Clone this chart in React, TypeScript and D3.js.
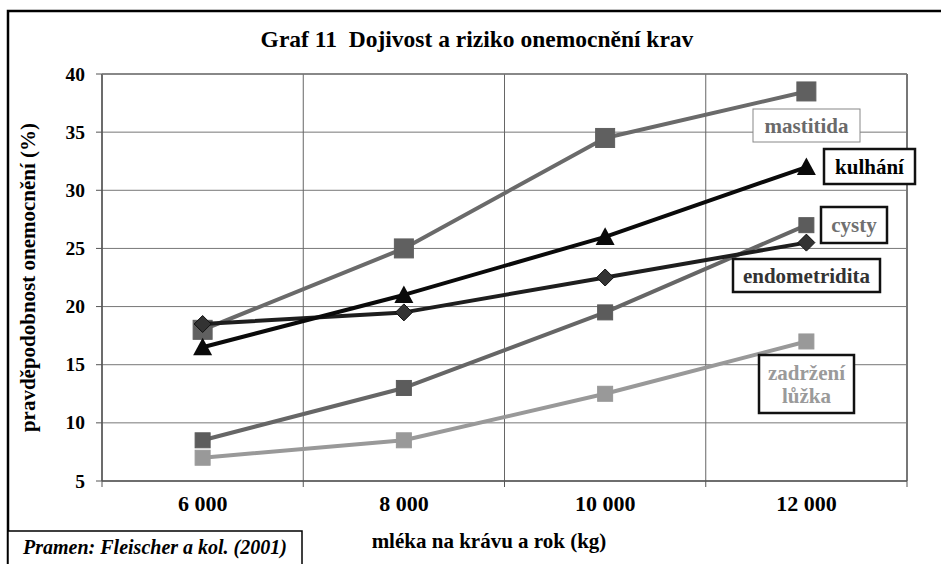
import React from "react";
import * as d3 from "d3";

const categories = ["6 000", "8 000", "10 000", "12 000"];
const yTicks = [5, 10, 15, 20, 25, 30, 35, 40];
const mastitida = [18, 25, 34.5, 38.5];
const kulhani = [16.5, 21, 26, 32];
const cysty = [8.5, 13, 19.5, 27];
const endometridita = [18.5, 19.5, 22.5, 25.5];
const zadrzeni = [7, 8.5, 12.5, 17];

const W = 941, H = 564;
const L = 102, R = 907, T = 74, B = 481;
const FONT = "'Liberation Serif', 'Times New Roman', 'DejaVu Serif', serif";

type S = { name: string[]; values: number[]; color: string; marker: string; mcolor: string; msize: number; width: number;
  box: [number, number, number, number]; textColor: string; boxStroke: string; boxW: number };

const series: S[] = [
  { name: ["zadržení", "lůžka"], values: zadrzeni, color: "#999", marker: "square", mcolor: "#999", msize: 15, width: 4,
    box: [759, 355, 854, 413], textColor: "#9a9a9a", boxStroke: "#111", boxW: 2.5 },
  { name: ["cysty"], values: cysty, color: "#666", marker: "square", mcolor: "#5c5c5c", msize: 15, width: 4,
    box: [821, 207, 887, 243], textColor: "#707070", boxStroke: "#111", boxW: 2.5 },
  { name: ["mastitida"], values: mastitida, color: "#6a6a6a", marker: "square", mcolor: "#606060", msize: 19, width: 4,
    box: [753, 109, 860, 142], textColor: "#6a6a6a", boxStroke: "#888", boxW: 1 },
  { name: ["endometridita"], values: endometridita, color: "#1e1e1e", marker: "diamond", mcolor: "#333", msize: 15, width: 4,
    box: [733, 259, 880, 292], textColor: "#333", boxStroke: "#111", boxW: 2.5 },
  { name: ["kulhání"], values: kulhani, color: "#0a0a0a", marker: "triangle", mcolor: "#0a0a0a", msize: 19, width: 4,
    box: [824, 149, 915, 184], textColor: "#000", boxStroke: "#111", boxW: 2.5 },
];

export default function App() {
  const x = d3.scaleBand<string>().domain(categories).range([L, R]);
  const y = d3.scaleLinear().domain([5, 40]).range([B, T]);
  const cx = (i: number) => (x(categories[i]) as number) + x.bandwidth() / 2;
  const line = d3.line<number>().x((_, i) => cx(i)).y((v) => y(v));
  const bounds = categories.map((c) => x(c) as number).concat([R]);

  const marker = (s: S, v: number, i: number) => {
    const px = cx(i), py = y(v), r = s.msize / 2;
    if (s.marker === "square")
      return <rect key={i} x={px - r} y={py - r} width={s.msize} height={s.msize} fill={s.mcolor} stroke={s.mcolor} strokeWidth={1} />;
    if (s.marker === "diamond")
      return <path key={i} d={`M${px},${py - r - 1}L${px + r + 1},${py}L${px},${py + r + 1}L${px - r - 1},${py}Z`} fill={s.mcolor} stroke="#111" strokeWidth={1} />;
    return <path key={i} d={`M${px},${py - r}L${px + r},${py + r * 0.85}L${px - r},${py + r * 0.85}Z`} fill={s.mcolor} />;
  };

  const tstyle: React.CSSProperties = { fontFamily: FONT, whiteSpace: "pre" };

  return (
    <svg width={W} height={H} style={{ position: "absolute", left: 0, top: 0, background: "#fff", fontFamily: FONT }}>
      <rect x={0} y={0} width={W} height={H} fill="#fff" />
      <rect x={8} y={11} width={W + 20} height={H + 20} fill="none" stroke="#000" strokeWidth={2.5} />
      <text x={477} y={47} textAnchor="middle" fontSize={23.5} fontWeight="bold" style={tstyle}>{"Graf 11  Dojivost a riziko onemocnění krav"}</text>

      {yTicks.map((t) => (
        <g key={t}>
          <line x1={L} x2={R} y1={y(t)} y2={y(t)} stroke="#777" strokeWidth={1} />
          <line x1={L - 6} x2={L} y1={y(t)} y2={y(t)} stroke="#555" strokeWidth={1} />
          <text x={85} y={y(t) + 6.5} textAnchor="end" fontSize={19.5} fontWeight="bold" style={tstyle}>{t}</text>
        </g>
      ))}
      {bounds.map((b, i) => (
        <g key={i}>
          <line x1={b} x2={b} y1={T} y2={B} stroke="#666" strokeWidth={1} />
          <line x1={b} x2={b} y1={B} y2={B + 6} stroke="#555" strokeWidth={1} />
        </g>
      ))}
      <line x1={L} x2={L} y1={T} y2={B} stroke="#555" strokeWidth={1.5} />
      <line x1={R} x2={R} y1={T} y2={B} stroke="#777" strokeWidth={2} />
      <line x1={L} x2={R} y1={B} y2={B} stroke="#555" strokeWidth={1.5} />
      <line x1={L} x2={R} y1={T} y2={T} stroke="#777" strokeWidth={1.5} />

      {categories.map((c, i) => (
        <text key={c} x={cx(i)} y={511} textAnchor="middle" fontSize={22} fontWeight="bold" style={tstyle}>{c}</text>
      ))}
      <text x={489} y={548} textAnchor="middle" fontSize={21} fontWeight="bold" style={tstyle}>mléka na krávu a rok (kg)</text>
      <text transform={`translate(35,${(T + B) / 2}) rotate(-90)`} textAnchor="middle" fontSize={21} fontWeight="bold" style={tstyle}>pravděpodobnost onemocnění (%)</text>

      <rect x={8} y={531} width={294} height={60} fill="#fff" stroke="#000" strokeWidth={1.5} />
      <text x={155} y={554} textAnchor="middle" fontSize={20} fontWeight="bold" fontStyle="italic" style={tstyle}>Pramen: Fleischer a kol. (2001)</text>

      {series.map((s, si) => (
        <g key={si}>
          <path d={line(s.values) as string} fill="none" stroke={s.color} strokeWidth={s.width} strokeLinejoin="round" />
          {s.values.map((v, i) => marker(s, v, i))}
        </g>
      ))}
      {series.map((s, si) => {
        const [x1, y1, x2, y2] = s.box;
        const mx = (x1 + x2) / 2;
        const n = s.name.length;
        const lh = 23;
        const cy = (y1 + y2) / 2;
        return (
          <g key={"b" + si}>
            <rect x={x1} y={y1} width={x2 - x1} height={y2 - y1} fill="#fff" stroke={s.boxStroke} strokeWidth={s.boxW} />
            {s.name.map((t, k) => (
              <text key={k} x={mx} y={cy + (k - (n - 1) / 2) * lh + 7} textAnchor="middle" fontSize={21} fontWeight="bold" fill={s.textColor} style={tstyle}>{t}</text>
            ))}
          </g>
        );
      })}
    </svg>
  );
}
